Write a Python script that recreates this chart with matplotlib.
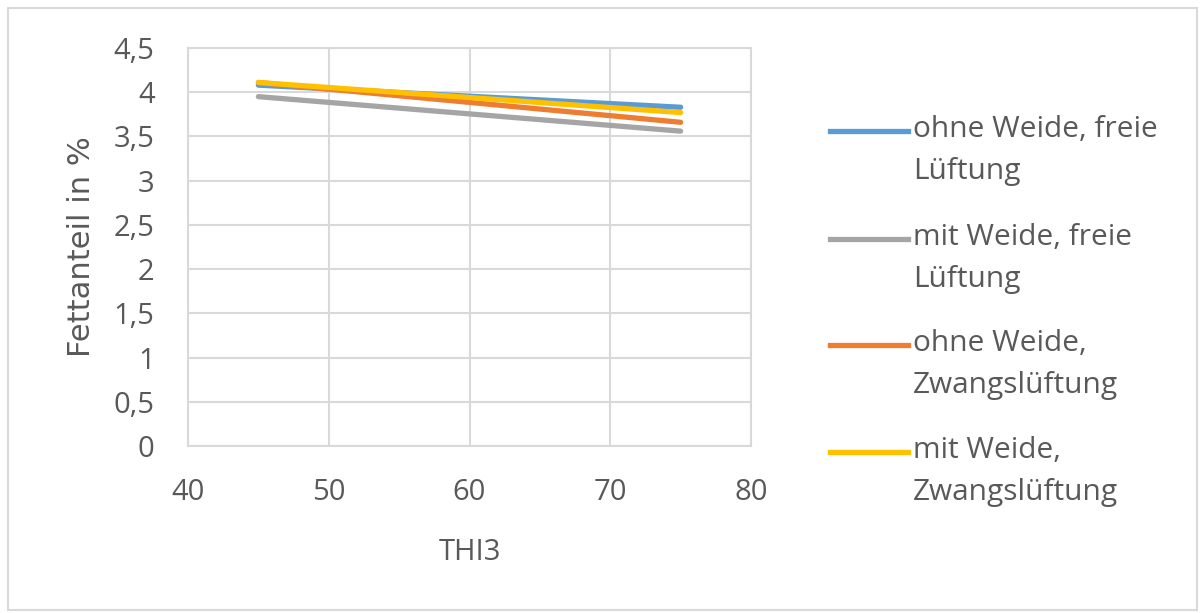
import matplotlib
matplotlib.use("Agg")
import matplotlib.pyplot as plt
from matplotlib.lines import Line2D
from matplotlib.patches import Rectangle

plt.rcParams['font.family'] = ['Open Sans', 'DejaVu Sans']

thi = [45, 75]
series_names = ["ohne Weide, freie\nLüftung", "mit Weide, freie\nLüftung",
                "ohne Weide,\nZwangslüftung", "mit Weide,\nZwangslüftung"]
series_values = [
    [4.08, 3.83],
    [3.95, 3.56],
    [4.11, 3.66],
    [4.11, 3.77],
]
colors = ["#5b9bd5", "#a5a5a5", "#ed7d31", "#ffc000"]
xticks = [40, 50, 60, 70, 80]
yticks = [0, 0.5, 1, 1.5, 2, 2.5, 3, 3.5, 4, 4.5]
ytick_labels = ["0", "0,5", "1", "1,5", "2", "2,5", "3", "3,5", "4", "4,5"]

W, H = 1201, 613
fig = plt.figure(figsize=(W / 100, H / 100), dpi=100)
fig.patches.append(Rectangle((8 / W, 3 / H), (W - 12) / W, (H - 11) / H, transform=fig.transFigure,
                             fill=False, edgecolor="#d9d9d9", linewidth=1.5))

ax = fig.add_axes([188 / W, 1 - 446 / H, (751 - 188) / W, (446 - 48) / H])
for vals, c in zip(series_values, colors):
    ax.plot(thi, vals, color=c, linewidth=3.8, solid_capstyle='round')

ax.set_xlim(40, 80)
ax.set_ylim(0, 4.5)
ax.set_xticks(xticks)
ax.set_yticks(yticks)
ax.set_yticklabels(ytick_labels)
ax.grid(True, color="#d9d9d9", linewidth=1.5)
ax.set_axisbelow(True)
for s in ax.spines.values():
    s.set_color("#d9d9d9")
    s.set_linewidth(1.5)
ax.tick_params(length=0, labelsize=21, labelcolor="#595959")
ax.tick_params(axis='x', pad=23)
ax.tick_params(axis='y', pad=24)
ax.set_xlabel("THI3", fontsize=21, color="#595959", labelpad=22)
ax.set_ylabel("Fettanteil in %", fontsize=22, color="#595959", labelpad=13,
              family="DejaVu Sans")

ys = [131, 239, 345, 452]
for name, c, y in zip(series_names, colors, ys):
    fig.add_artist(Line2D([830 / W, 908 / W], [1 - y / H, 1 - y / H], color=c, linewidth=3.8,
                          transform=fig.transFigure))
    fig.text(913 / W, 1 - (y - 16) / H, name, fontsize=21.5, color="#595959", va="top",
             linespacing=1.6)

fig.savefig("out.png", dpi=100)
